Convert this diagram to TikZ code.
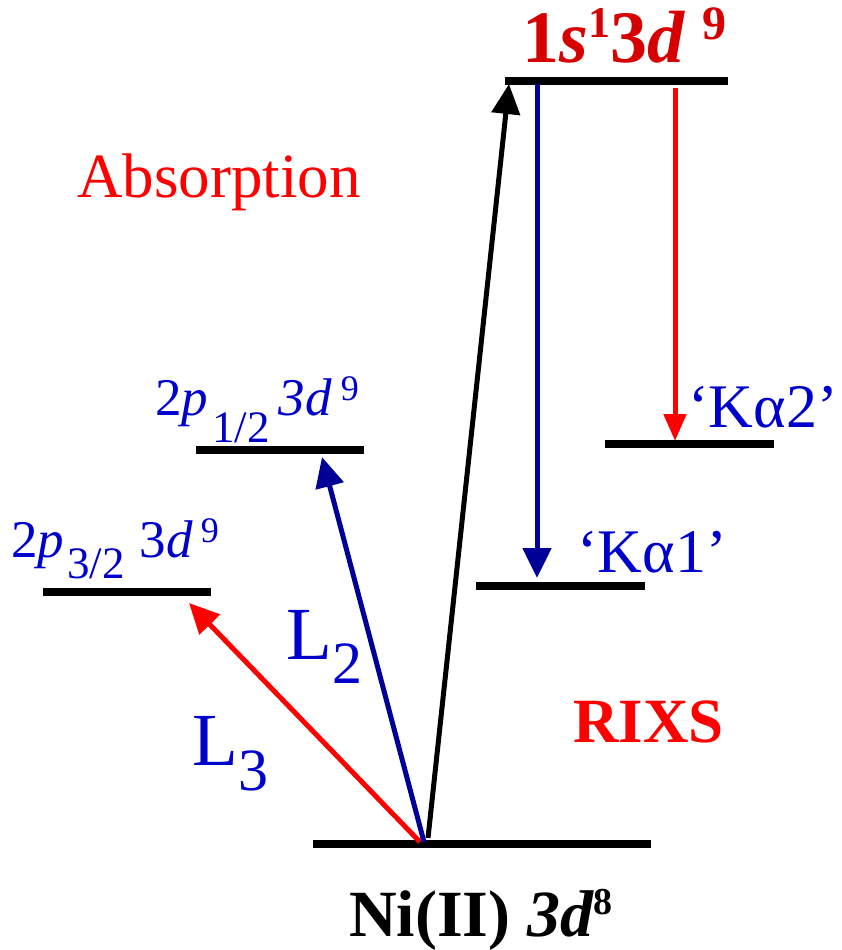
\documentclass[tikz,border=0pt]{standalone}
\usepackage{fontspec}
\setmainfont{Liberation Serif}
\usetikzlibrary{arrows.meta}
\definecolor{topred}{RGB}{214,0,0}
\definecolor{txtred}{RGB}{255,0,0}
\definecolor{arrred}{RGB}{255,0,0}
\definecolor{txtblue}{RGB}{0,0,204}
\definecolor{arrblue}{RGB}{0,0,153}
\newcommand{\fsz}[1]{\fontsize{#1}{#1}\selectfont}
\begin{document}
\begin{tikzpicture}[x=1pt,y=-1pt,
  levelline/.style={line width=7.5pt},
  transition/.style={line width=5pt,-{Triangle[length=30pt,width=28pt]}},
  lbl/.style={inner sep=0pt,anchor=base west}]
\useasboundingbox (0,0) rectangle (842,950);
% level end points
\coordinate (gL) at (313,844); \coordinate (gR) at (651,844);
\coordinate (tL) at (505,81);  \coordinate (tR) at (728,81);
\coordinate (p1L) at (196,450); \coordinate (p1R) at (364,450);
\coordinate (p3L) at (43,592);  \coordinate (p3R) at (211,592);
\coordinate (k1L) at (476,586); \coordinate (k1R) at (645,586);
\coordinate (k2L) at (605,444); \coordinate (k2R) at (774,444);
% levels
\draw[levelline] (gL) -- (gR);
\draw[levelline] (tL) -- (tR);
\draw[levelline] (p1L) -- (p1R);
\draw[levelline] (p3L) -- (p3R);
\draw[levelline] (k1L) -- (k1R);
\draw[levelline] (k2L) -- (k2R);
% arrow end points
\coordinate (sK) at (428,838);
\coordinate (eK) at (509,84);
\coordinate (sL2) at (424,842);
\coordinate (eL2) at (322,457);
\coordinate (sL3) at (420,842);
\coordinate (eL3) at (189,603);
\coordinate (sKa1) at (537,84);
\coordinate (eKa1) at (537,578);
\coordinate (sKa2) at (675,88);
\coordinate (eKa2) at (675,441);
% arrows
\draw[transition,arrred] (sL3) -- (eL3);
\draw[transition,arrblue] (sL2) -- (eL2);
\draw[transition,black] (sK) -- (eK);
\draw[transition,arrblue] (sKa1) -- (eKa1);
\draw[transition,arrred,-{Triangle[length=27pt,width=22pt]}] (sKa2) -- (eKa2);
% labels
\node[lbl,text=topred] (top) at (522,63) {\fsz{74}\bfseries 1\textit{s}\raisebox{25pt}{\fsz{44}1}3\textit{d}\hspace{18pt}\raisebox{23pt}{\fsz{48}9}};
\node[lbl,text=txtred] (abs) at (77,197) {\fsz{63}Absorption};
\node[lbl,text=txtblue] (p12) at (155,415) {\fsz{53}2\textit{p}\hspace{4pt}\raisebox{-27pt}{\fsz{45}1/2}\hspace{9pt}\textit{3d}\hspace{9pt}\raisebox{15pt}{\fsz{36}9}};
\node[lbl,text=txtblue] (p32) at (11,557) {\fsz{53}2\textit{p}\hspace{3pt}\raisebox{-21pt}{\fsz{45}3/2}\hspace{15pt}3\textit{d}\hspace{8pt}\raisebox{15pt}{\fsz{36}9}};
\node[lbl,text=txtblue] (ka1) at (577,572) {\fsz{62}‘Kα1’};
\node[lbl,text=txtblue] (ka2) at (688,427) {\fsz{62}‘Kα2’};
\node[lbl,text=txtblue] (l2) at (286,659) {\fsz{75}L\raisebox{-24pt}{\fsz{60}2}};
\node[lbl,text=txtblue] (l3) at (192,765) {\fsz{75}L\raisebox{-25pt}{\fsz{60}3}};
\node[lbl,text=txtred] (rixs) at (573,742) {\fsz{63}\bfseries RIXS};
\node[lbl,text=black] (ni) at (349,936) {\fsz{66}\bfseries Ni(II) \textit{3d}\raisebox{22pt}{\fsz{38}8}};
\end{tikzpicture}
\end{document}
